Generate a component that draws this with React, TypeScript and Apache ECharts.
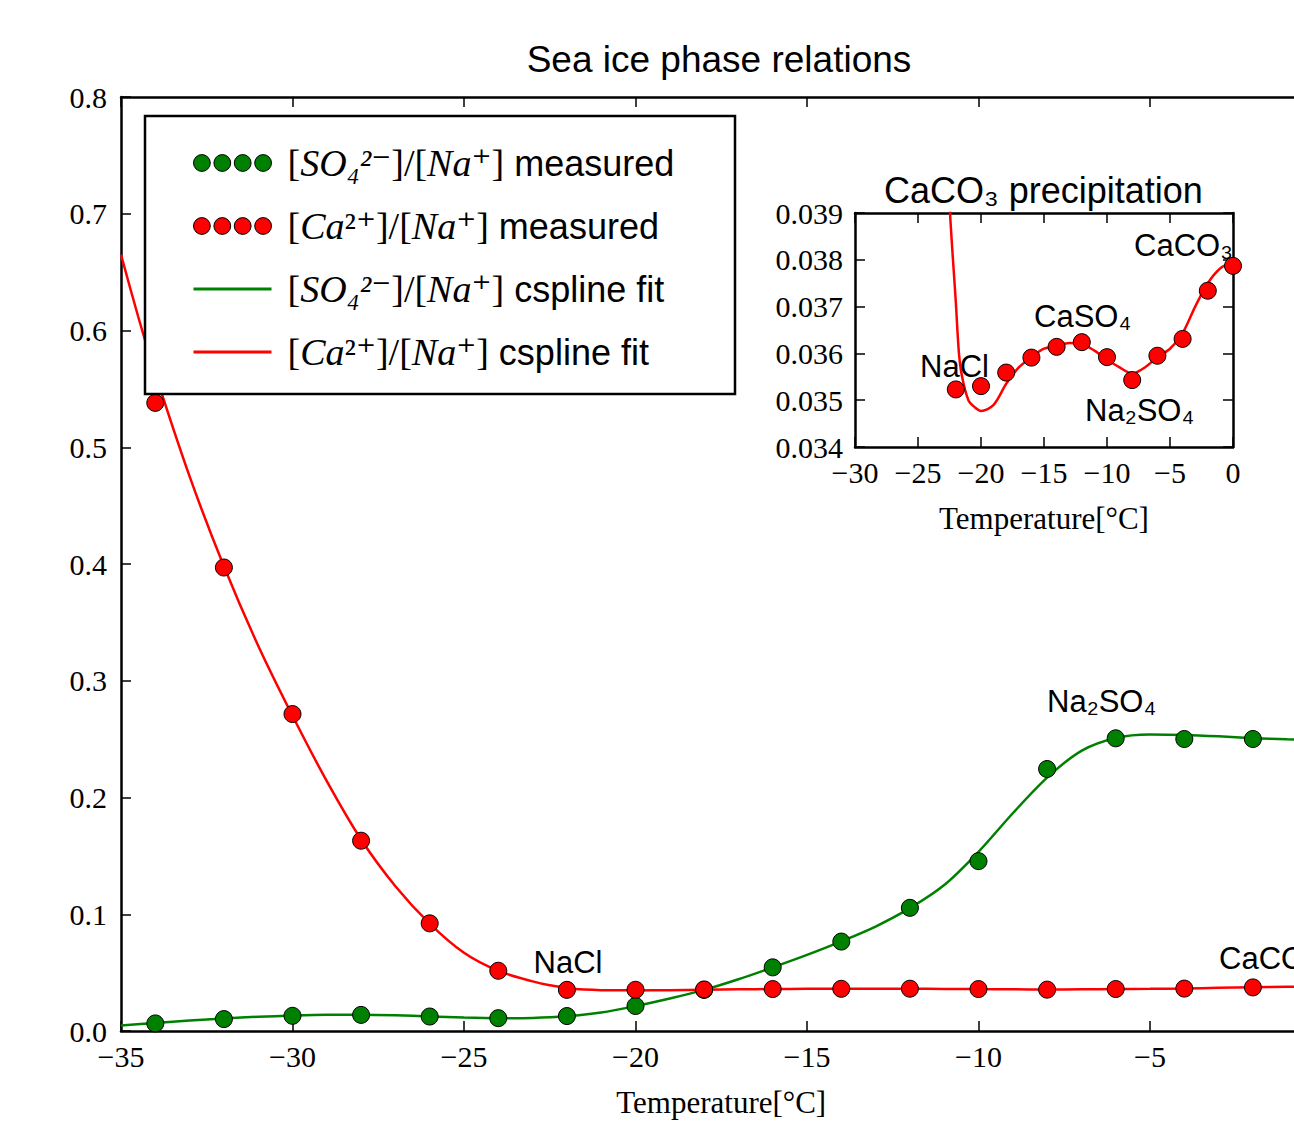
import React, { useEffect, useRef } from 'react';
import * as echarts from 'echarts';

// ---------- data ----------
const measuredT = [-34, -32, -30, -28, -26, -24, -22, -20, -18, -16, -14, -12, -10, -8, -6, -4, -2, 0];
// [SO4 2-]/[Na+] measured (up to -2 visible)
const so4Measured = [0.0065, 0.0102, 0.013, 0.0138, 0.0124, 0.011, 0.0128, 0.0214, 0.0352, 0.0545, 0.0766, 0.1055, 0.1455, 0.2244, 0.2507, 0.2501, 0.2501];
// [Ca 2+]/[Na+] measured
const caMeasured = [0.538, 0.397, 0.2715, 0.163, 0.0922, 0.0516, 0.03523, 0.0353, 0.03559, 0.03591, 0.03614, 0.03624, 0.03592, 0.03543, 0.03595, 0.03631, 0.03734, 0.03787];

// cspline fits
const so4FitT = [-35, -34, -33, -32, -31, -30, -29, -28, -27, -26, -25, -24, -23, -22, -21, -20, -19, -18, -17, -16, -15, -14, -13, -12, -11, -10, -9, -8, -7, -6, -5, -4, -3, -2, -1, 0];
const so4Fit = [0.0048, 0.0068, 0.009, 0.0108, 0.0122, 0.0132, 0.0139, 0.014, 0.0135, 0.0125, 0.0115, 0.011, 0.0112, 0.0126, 0.0158, 0.0213, 0.0278, 0.0352, 0.0443, 0.0545, 0.0652, 0.0768, 0.0895, 0.1052, 0.125, 0.1535, 0.1865, 0.217, 0.24, 0.251, 0.254, 0.2536, 0.2524, 0.2508, 0.2498, 0.249];

const caFitT = [-35, -34.5, -34, -33, -32, -31, -30, -29, -28, -27, -26, -25, -24, -23, -22.5, -22, -21.75, -21.5, -21, -20.5, -20, -19, -18, -17, -16, -15, -14, -13, -12, -11, -10, -9, -8, -7, -6, -5, -4, -3, -2, -1, 0];
const caFit = [0.665, 0.612, 0.563, 0.475, 0.398, 0.33, 0.27, 0.214, 0.164, 0.124, 0.092, 0.067, 0.0515, 0.0425, 0.0392, 0.0371, 0.036, 0.0355, 0.035, 0.03485, 0.03477, 0.0349, 0.03535, 0.0357, 0.03592, 0.0361, 0.03616, 0.03622, 0.0362, 0.03606, 0.03587, 0.0357, 0.03557, 0.0357, 0.03592, 0.0361, 0.03643, 0.037, 0.0375, 0.03782, 0.03796];

const legendNames = ['so4Measured', 'caMeasured', 'so4Fit', 'caFit'];
// rich-text pieces: b = upright serif, m = italic serif
const legendMath = [
  '{b|[}{m|SO₄²⁻}{b|]/[}{m|Na}{b|⁺]}',
  '{b|[}{m|Ca}{b|²⁺]/[}{m|Na}{b|⁺]}',
  '{b|[}{m|SO₄²⁻}{b|]/[}{m|Na}{b|⁺]}',
  '{b|[}{m|Ca}{b|²⁺]/[}{m|Na}{b|⁺]}',
];
const legendWords = ['measured', 'measured', 'cspline fit', 'cspline fit'];

const mainTitle = 'Sea ice phase relations';
const insetTitle = 'CaCO₃ precipitation';
const xName = 'Temperature[°C]';

const mainX = { min: -35, max: 0, interval: 5 };
const mainY = { min: 0, max: 0.8, interval: 0.1 };
const insetX = { min: -30, max: 0, interval: 5 };
const insetY = { min: 0.034, max: 0.039, interval: 0.001 };

// ---------- styles ----------
const SERIF = "'Liberation Serif', 'DejaVu Serif', serif";
const SANS = "'Liberation Sans', Arial, 'DejaVu Sans', sans-serif";
const GREEN = '#008000';
const RED = '#ff0000';
const CHART_W = 1340;
const CHART_H = 1125;

const zip = (t: number[], v: number[]) => v.map((y, i) => [t[i], y]);
const minusFmt = (v: number) => (v < 0 ? '\u2212' + Math.abs(v) : String(v));

const dotsIcon = (() => {
  const r = 8.35;
  let d = 'path://';
  for (let k = 0; k < 4; k++) {
    const cx = r + 20.3 * k;
    d += `M${cx - r},${r}a${r},${r} 0 1,0 ${2 * r},0a${r},${r} 0 1,0 ${-2 * r},0Z`;
  }
  return d;
})();
const lineIcon = 'path://M0,0H62V2.5H0Z';

function frame(extra: any) {
  return {
    type: 'value',
    splitLine: { show: false },
    axisLine: { show: true, onZero: false, lineStyle: { color: '#000', width: 2.5 } },
    axisTick: { show: true, inside: true, length: 10, lineStyle: { color: '#000', width: 1.5 } },
    ...extra,
  };
}

const tickLabel = (fmt: (v: number) => string, margin: number, extra: any = {}) => ({
  show: true,
  fontFamily: SERIF,
  fontSize: 30,
  color: '#000',
  margin,
  formatter: fmt,
  ...extra,
});

const nameStyle = { fontFamily: SERIF, fontSize: 31, color: '#000' };

export default function App() {
  const ref = useRef<HTMLDivElement>(null);

  useEffect(() => {
    if (!ref.current) return;
    const chart = echarts.init(ref.current, undefined, { renderer: 'svg' });

    const text = (t: string, x: number, y: number, size: number, align: string, family = SANS) => ({
      type: 'text',
      z: 20,
      style: { text: t, x, y, fontSize: size, fontFamily: family, fill: '#000', align, verticalAlign: 'middle' },
    });

    const option: any = {
      animation: false,
      backgroundColor: '#fff',
      grid: [
        { left: 121, right: CHART_W - 1321.5, top: 97, bottom: CHART_H - 1031 },
        { left: 855, right: CHART_W - 1233, top: 213, bottom: CHART_H - 447 },
      ],
      xAxis: [
        frame({
          gridIndex: 0, position: 'bottom', ...mainX,
          axisLabel: tickLabel(minusFmt, 10, { showMaxLabel: false }),
          name: xName, nameLocation: 'middle', nameGap: 56, nameTextStyle: nameStyle,
        }),
        frame({ gridIndex: 0, position: 'top', ...mainX, axisLabel: { show: false } }),
        frame({
          gridIndex: 1, position: 'bottom', ...insetX,
          axisLabel: tickLabel(minusFmt, 10),
          name: xName, nameLocation: 'middle', nameGap: 56, nameTextStyle: nameStyle,
        }),
        frame({ gridIndex: 1, position: 'top', ...insetX, axisLabel: { show: false } }),
      ],
      yAxis: [
        frame({ gridIndex: 0, position: 'left', ...mainY, axisLabel: tickLabel((v: number) => v.toFixed(1), 14) }),
        frame({ gridIndex: 0, position: 'right', ...mainY, axisLabel: { show: false } }),
        frame({ gridIndex: 1, position: 'left', ...insetY, axisLabel: tickLabel((v: number) => v.toFixed(3), 12) }),
        frame({ gridIndex: 1, position: 'right', ...insetY, axisLabel: { show: false } }),
      ],
      legend: {
        orient: 'vertical',
        left: 193,
        top: 144,
        padding: 0,
        itemGap: 25,
        itemWidth: 78,
        itemHeight: 17,
        selectedMode: false,
        z: 30,
        data: [
          { name: legendNames[0], icon: dotsIcon, itemStyle: { color: GREEN, borderColor: '#000', borderWidth: 1 } },
          { name: legendNames[1], icon: dotsIcon, itemStyle: { color: RED, borderColor: '#000', borderWidth: 1 } },
          { name: legendNames[2], icon: lineIcon, itemStyle: { color: GREEN, borderWidth: 0 } },
          { name: legendNames[3], icon: lineIcon, itemStyle: { color: RED, borderWidth: 0 } },
        ],
        formatter: (name: string) => {
          const i = legendNames.indexOf(name);
          return `{g| }${legendMath[i]}{t| ${legendWords[i]}}`;
        },
        textStyle: {
          rich: {
            g: { width: 11, fontSize: 10, lineHeight: 40 },
            m: { fontFamily: SERIF, fontStyle: 'italic', fontSize: 38, lineHeight: 40, color: '#000' },
            b: { fontFamily: SERIF, fontSize: 38, lineHeight: 40, color: '#000' },
            t: { fontFamily: SANS, fontSize: 36, lineHeight: 40, color: '#000' },
          },
        },
      },
      graphic: [
        {
          type: 'rect', z: 25,
          shape: { x: 145, y: 116, width: 590, height: 278 },
          style: { fill: '#fff', stroke: '#000', lineWidth: 2.5 },
        },
        text(mainTitle, 719, 59, 37, 'center'),
        text('NaCl', 568, 962, 31, 'center'),
        text('Na₂SO₄', 1047, 701, 31, 'left'),
        text('CaCO₃', 1219, 958, 31, 'left'),
        text(insetTitle, 884, 190, 36, 'left'),
        text('NaCl', 920, 366, 31, 'left'),
        text('CaSO₄', 1034, 316, 31, 'left'),
        text('Na₂SO₄', 1085, 410, 31, 'left'),
        text('CaCO₃', 1134, 245, 31, 'left'),
      ],
      series: [
        {
          name: legendNames[0], type: 'scatter', xAxisIndex: 0, yAxisIndex: 0, z: 4,
          data: zip(measuredT, so4Measured), symbolSize: 17,
          itemStyle: { color: GREEN, borderColor: '#000', borderWidth: 1, opacity: 1 },
        },
        {
          name: legendNames[1], type: 'scatter', xAxisIndex: 0, yAxisIndex: 0, z: 4,
          data: zip(measuredT, caMeasured), symbolSize: 17,
          itemStyle: { color: RED, borderColor: '#000', borderWidth: 1, opacity: 1 },
        },
        {
          name: legendNames[2], type: 'line', xAxisIndex: 0, yAxisIndex: 0, z: 3,
          data: zip(so4FitT, so4Fit), symbol: 'none', smooth: 0.3,
          lineStyle: { color: GREEN, width: 2.5 }, itemStyle: { color: GREEN },
        },
        {
          name: legendNames[3], type: 'line', xAxisIndex: 0, yAxisIndex: 0, z: 3,
          data: zip(caFitT, caFit), symbol: 'none', smooth: 0.3,
          lineStyle: { color: RED, width: 2.5 }, itemStyle: { color: RED },
        },
        {
          name: 'insetFit', type: 'line', xAxisIndex: 2, yAxisIndex: 2, z: 3, clip: true,
          data: zip(caFitT, caFit), symbol: 'none', smooth: 0.3,
          lineStyle: { color: RED, width: 2.5 }, itemStyle: { color: RED },
        },
        {
          name: 'insetMeasured', type: 'scatter', xAxisIndex: 2, yAxisIndex: 2, z: 4, clip: true,
          data: zip(measuredT, caMeasured), symbolSize: 17,
          itemStyle: { color: RED, borderColor: '#000', borderWidth: 1, opacity: 1 },
        },
      ],
    };

    chart.setOption(option);
    return () => chart.dispose();
  }, []);

  return (
    <div style={{ position: 'absolute', left: 0, top: 0, width: 1294, height: 1125, overflow: 'hidden', background: '#fff' }}>
      <div ref={ref} style={{ width: CHART_W, height: CHART_H }} />
    </div>
  );
}
